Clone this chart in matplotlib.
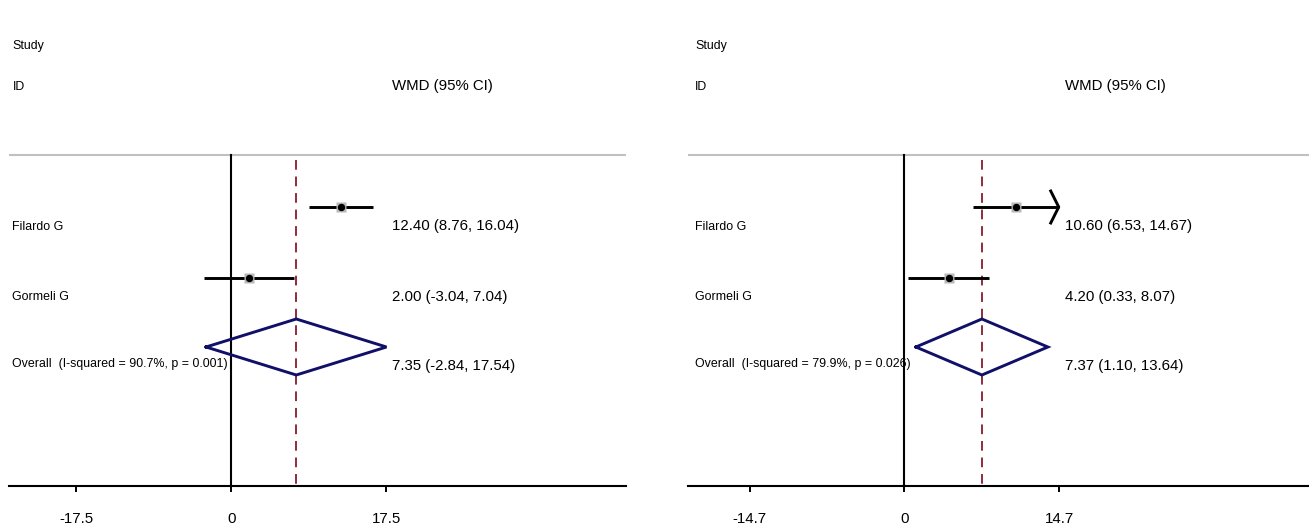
import matplotlib.pyplot as plt
from matplotlib.transforms import blended_transform_factory

plt.rcParams['font.family'] = ['Liberation Sans', 'DejaVu Sans']

# data
studies = ["Filardo G", "Gormeli G"]

left_wmd = [12.40, 2.00]
left_lo = [8.76, -3.04]
left_hi = [16.04, 7.04]
left_weight = [50.5, 49.5]
left_overall = [7.35, -2.84, 17.54]
left_i2 = "90.7%"
left_p = "0.001"
left_ticks = [-17.5, 0, 17.5]
left_ticklabels = ["-17.5", "0", "17.5"]
left_arrow = [False, False]

right_wmd = [10.60, 4.20]
right_lo = [6.53, 0.33]
right_hi = [14.67, 8.07]
right_weight = [50.8, 49.2]
right_overall = [7.37, 1.10, 13.64]
right_i2 = "79.9%"
right_p = "0.026"
right_ticks = [-14.7, 0, 14.7]
right_ticklabels = ["-14.7", "0", "14.7"]
right_arrow = [True, False]

W, H = 1309, 528
fig = plt.figure(figsize=(W / 100, H / 100), dpi=100)

navy = '#101068'
maroon = '#8e2c3c'
boxgray = '#b8b8b8'


def forest(px_left, px_right, xlim, wmd, lo, hi, weight, overall, i2, p,
           ticks, ticklabels, arrows, label_px, value_px):
    ax = fig.add_axes([px_left / W, 0, (px_right - px_left) / W, 1])
    ax.set_xlim(xlim)
    ax.set_ylim(H, 0)
    for s in ['top', 'left', 'right']:
        ax.spines[s].set_visible(False)
    ax.spines['bottom'].set_position(('data', 486))
    ax.spines['bottom'].set_linewidth(1.5)
    ax.set_yticks([])
    ax.set_xticks(ticks)
    ax.set_xticklabels(ticklabels, fontsize=10.8)
    ax.tick_params(axis='x', direction='out', length=4.5, width=1.4, pad=14)

    tr = blended_transform_factory(fig.transFigure, ax.transData)
    lx = label_px / W
    vx = value_px / W

    # header
    ax.text(lx, 49, "Study", fontsize=8.9, transform=tr, va='baseline')
    ax.text(lx, 90, "ID", fontsize=8.9, transform=tr, va='baseline')
    ax.text(vx, 90, "WMD (95% CI)", fontsize=10.8, transform=tr, va='baseline')
    ax.axhline(155, color='#c0c0c0', lw=1.5)

    # reference lines
    ax.plot([0, 0], [155, 486], color='black', lw=1.5)
    ax.plot([overall[0], overall[0]], [160, 486], color=maroon, lw=1.4,
            dashes=(5, 3.5))

    row_y = [207, 277.5]
    for i, name in enumerate(studies):
        y = row_y[i]
        ax.plot([lo[i], hi[i]], [y, y], color='black', lw=2.1,
                solid_capstyle='butt')
        if arrows[i]:
            ax.plot([hi[i] - 0.76, hi[i], hi[i] - 0.76], [y - 16, y, y + 16],
                    color='black', lw=2.1)
        ax.plot(wmd[i], y, marker='s', ms=7.5 * (weight[i] / 50) ** 0.5,
                color=boxgray, mec='none', zorder=3)
        ax.plot(wmd[i], y, marker='o', ms=4.3, color='black', zorder=4)
        ax.text(lx, y + 23, name, fontsize=8.9, transform=tr, va='baseline')
        ax.text(vx, y + 23, "%.2f (%.2f, %.2f)" % (wmd[i], lo[i], hi[i]),
                fontsize=10.8, transform=tr, va='baseline')

    oy = 347
    est, olo, ohi = overall
    ax.plot([olo, est, ohi, est, olo], [oy, oy - 28, oy, oy + 28, oy],
            color=navy, lw=2.1, zorder=5, solid_joinstyle='miter')
    ax.text(lx, oy + 20, "Overall  (I-squared = %s, p = %s)" % (i2, p),
            fontsize=8.9, transform=tr, va='baseline', zorder=6)
    ax.text(vx, oy + 23, "%.2f (%.2f, %.2f)" % (est, olo, ohi),
            fontsize=10.8, transform=tr, va='baseline')
    return ax


forest(9, 626, (-25.1, 44.6), left_wmd, left_lo, left_hi, left_weight,
       left_overall, left_i2, left_p, left_ticks, left_ticklabels, left_arrow,
       12.5, 392)
forest(688, 1308.5, (-20.55, 38.4), right_wmd, right_lo, right_hi, right_weight,
       right_overall, right_i2, right_p, right_ticks, right_ticklabels,
       right_arrow, 695, 1065)

fig.savefig('out.png', dpi=100)
